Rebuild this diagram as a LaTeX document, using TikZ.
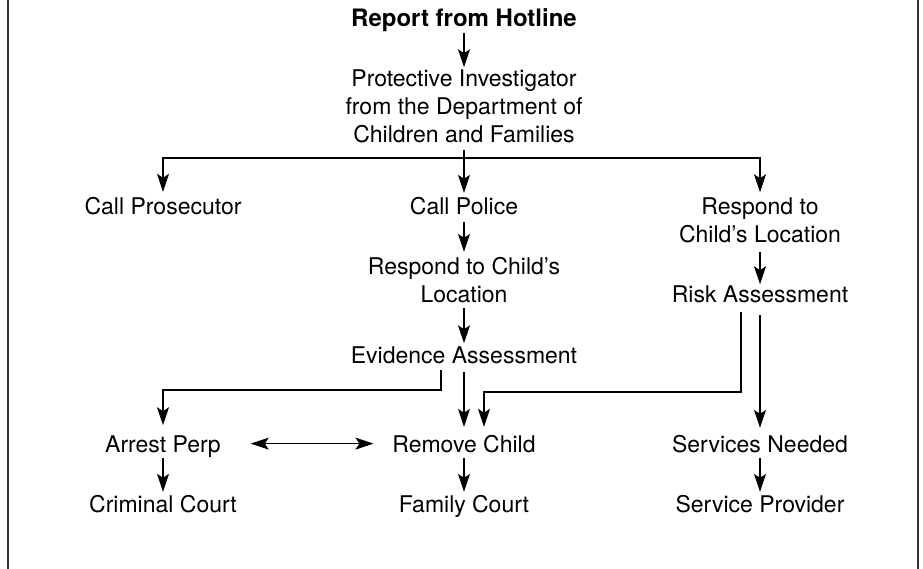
\documentclass[tikz,border=0pt]{standalone}
\usepackage{fontspec}
\setmainfont{TeX Gyre Heros}
\usetikzlibrary{arrows.meta}
\begin{document}
\begin{tikzpicture}[x=1pt,y=-1pt,
  lbl/.style={anchor=base, inner sep=0pt, outer sep=0pt, align=center, font=\fontsize{23}{28}\selectfont},
  ttl/.style={lbl, font=\fontsize{24}{28}\selectfont\bfseries},
  ln/.style={line width=1.2pt},
  frame/.style={line width=1.3pt, black!80},
  arr/.style={line width=1.2pt, -{Stealth[length=18pt,width=12pt,inset=4pt]}},
  dbl/.style={line width=1.2pt, {Stealth[length=18pt,width=12pt,inset=4pt]}-{Stealth[length=18pt,width=12pt,inset=4pt]}}]
\useasboundingbox (0,0) rectangle (923,569);
\draw[frame] (8,0) -- (8,569);
\draw[frame] (918,0) -- (918,569);

\node[ttl] (report) at (464,27) {Report from Hotline};
\node[lbl] (prot) at (464,143) {Protective Investigator\\from the Department of\\Children and Families};
\node[lbl] (pros) at (163,215) {Call Prosecutor};
\node[lbl] (police) at (464,215) {Call Police};
\node[lbl] (resp) at (760,243) {Respond to\\Child’s Location};
\node[lbl] (resp2) at (464,302) {Respond to Child’s\\Location};
\node[lbl] (risk) at (760,302) {Risk Assessment};
\node[lbl] (evid) at (464,363) {Evidence Assessment};
\node[lbl] (arrest) at (163,452) {Arrest Perp};
\node[lbl] (remove) at (464,452) {Remove Child};
\node[lbl] (services) at (760,452) {Services Needed};
\node[lbl] (criminal) at (163,512) {Criminal Court};
\node[lbl] (family) at (464,512) {Family Court};
\node[lbl] (provider) at (760,512) {Service Provider};

\coordinate (br) at (464,158);
\coordinate (ea) at (441,390);
\coordinate (rr) at (741,392);
\coordinate (rd) at (484,392);

\draw[arr, shorten <=1pt, shorten >=3pt] (report.south) -- (prot.north);
\draw[ln, shorten <=7pt] (prot.south) -- (br);
\draw[arr, shorten >=5pt] (br) -- (police.north);
\draw[arr, shorten >=6pt] (br) -| (pros.north);
\draw[arr, shorten >=6pt] (br) -| (resp.north);
\draw[arr, shorten <=7pt, shorten >=5pt] (police.south) -- (resp2.north);
\draw[arr, shorten <=6pt, shorten >=3pt] (resp2.south) -- (evid.north);
\draw[arr, shorten <=9pt, shorten >=1pt] (resp.south) -- (risk.north);
\draw[arr, shorten <=7pt, shorten >=10pt] (evid.south -| ea) -- (ea) -| (arrest.north);
\draw[arr, shorten <=9pt, shorten >=8pt] (evid.south) -- (remove.north);
\draw[arr, shorten <=10pt, shorten >=8pt] (risk.south -| rr) -- (rr) -- (rd) -- (rd |- remove.north);
\draw[arr, shorten <=13pt, shorten >=7pt] (risk.south) -- (services.north);
\draw[dbl, shorten <=30pt, shorten >=19pt] (remove.west -| arrest.east) -- (remove.west);
\draw[arr, shorten <=1pt, shorten >=3pt] (arrest.south) -- (criminal.north);
\draw[arr, shorten <=6pt, shorten >=3pt] (remove.south) -- (family.north);
\draw[arr, shorten <=6pt, shorten >=3pt] (services.south) -- (provider.north);
\end{tikzpicture}
\end{document}
